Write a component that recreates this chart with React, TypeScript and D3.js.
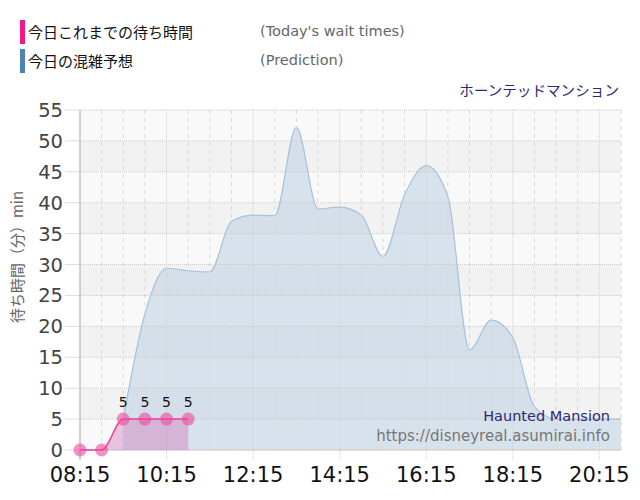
import React from "react";
import * as d3 from "d3";

const predTimes = ["09:15","09:45","10:15","10:45","11:15","11:45","12:15","12:45","13:15","13:45","14:15","14:45","15:15","15:45","16:15","16:45","17:15","17:45","18:15","18:45","19:15","19:45","20:15","20:45"];
const predValues = [5,22,29.4,29,28.8,37,38,37.9,52.2,39,39.3,38,31.3,41.3,46,41,16.2,21,18.2,7,5,5,5,5];
const actualTimes = ["08:15","08:45","09:15","09:45","10:15","10:45"];
const actualValues = [0,0,5,5,5,5];
const xTickLabels = ["08:15","10:15","12:15","14:15","16:15","18:15","20:15"];
const yTicks = [0,5,10,15,20,25,30,35,40,45,50,55];

const toMin = (s: string) => { const [h, m] = s.split(":").map(Number); return h * 60 + m; };

const W = 640, H = 500;
const L = 80, R = 621, T = 110, B = 450;
const SANS = "'DejaVu Sans', Verdana, sans-serif";
const JP = "'Noto Sans CJK JP', sans-serif";

export default function App() {
  const x = d3.scaleLinear().domain([toMin("08:15"), toMin("20:45")]).range([L, R]);
  const y = d3.scaleLinear().domain([0, 55]).range([B, T]);

  const pred = predTimes.map((t, i) => ({ t: toMin(t), v: predValues[i] }));
  const act = actualTimes.map((t, i) => ({ t: toMin(t), v: actualValues[i] }));

  const predArea = d3.area<{ t: number; v: number }>().x(d => x(d.t)).y0(y(0)).y1(d => y(d.v)).curve(d3.curveMonotoneX);
  const predLine = d3.line<{ t: number; v: number }>().x(d => x(d.t)).y(d => y(d.v)).curve(d3.curveMonotoneX);
  const actArea = d3.area<{ t: number; v: number }>().x(d => x(d.t)).y0(y(0)).y1(d => y(d.v)).curve(d3.curveMonotoneX);
  const actLine = d3.line<{ t: number; v: number }>().x(d => x(d.t)).y(d => y(d.v)).curve(d3.curveMonotoneX);

  const halfHours = d3.range(toMin("08:15"), toMin("20:45") + 1, 30);
  const majors = xTickLabels.map(toMin);

  return (
    <svg width={W} height={H} style={{ position: "absolute", left: 0, top: 0, background: "#fff" }}>
      {/* legend */}
      <rect x={20} y={20} width={5} height={24} fill="#ee1a8c" />
      <text x={28} y={38} fontFamily={JP} fontSize={15} fill="#111">今日これまでの待ち時間</text>
      <text x={260} y={36} fontFamily={SANS} fontSize={14.5} fill="#666">(Today's wait times)</text>
      <rect x={20} y={49} width={5} height={24} fill="#4a82b4" />
      <text x={28} y={67} fontFamily={JP} fontSize={15} fill="#111">今日の混雑予想</text>
      <text x={260} y={65} fontFamily={SANS} fontSize={14.5} fill="#666">(Prediction)</text>
      <text x={619} y={96} textAnchor="end" fontFamily={JP} fontSize={14.6} fill="#2a2a78">ホーンテッドマンション</text>

      {/* bands */}
      {yTicks.slice(0, -1).map((v, i) => (
        <rect key={"b" + v} x={L} y={y(v + 5)} width={R - L} height={y(v) - y(v + 5)}
          fill={(10 - i) % 2 === 0 ? "#f9f9f9" : "#f2f2f2"} />
      ))}

      {/* prediction */}
      <path d={predArea(pred) || ""} fill="#c4d4e3" fillOpacity={0.62} />
      <path d={predLine(pred) || ""} fill="none" stroke="#a8c2da" strokeWidth={1.2} />

      {/* grid */}
      {halfHours.map(t => majors.includes(t) ? null : (
        <line key={"v" + t} x1={x(t)} x2={x(t)} y1={T} y2={B} stroke="#d8d8d8" strokeDasharray="4,4" />
      ))}
      {majors.map(t => (
        <line key={"m" + t} x1={x(t)} x2={x(t)} y1={T} y2={B + 10} stroke="#cfcfcf" strokeDasharray="1,1" />
      ))}
      {yTicks.map(v => (
        <g key={"h" + v}>
          <line x1={L} x2={R} y1={y(v)} y2={y(v)} stroke="#c8c8c8" strokeDasharray="1,1" />
          <line x1={65} x2={L} y1={y(v)} y2={y(v)} stroke="#dddddd" />
          <text x={63} y={y(v) + 7} textAnchor="end" fontFamily={SANS} fontSize={19.5} fill="#444">{v}</text>
        </g>
      ))}
      <line x1={L} x2={L} y1={T} y2={B + 10} stroke="#b0b0b0" />
      <line x1={L} x2={R} y1={B} y2={B} stroke="#d0d0d0" />

      {/* x labels */}
      {xTickLabels.map(s => (
        <text key={"xl" + s} x={x(toMin(s))} y={482} textAnchor="middle" fontFamily={SANS} fontSize={21} fill="#111">{s}</text>
      ))}

      {/* y title */}
      <text transform={`translate(23,257) rotate(-90)`} textAnchor="middle" fontFamily={JP} fontSize={15} fill="#666">待ち時間（分）min</text>

      {/* actual */}
      <path d={actArea(act) || ""} fill="#d070b8" fillOpacity={0.4} />
      <path d={actLine(act) || ""} fill="none" stroke="#e8409a" strokeWidth={1.5} />
      {act.map((d, i) => (
        <g key={"p" + i}>
          <circle cx={x(d.t)} cy={y(d.v)} r={6.5} fill="#ec4aa0" fillOpacity={0.6} />
          {d.v > 0 && (
            <text x={x(d.t)} y={y(d.v) - 12} textAnchor="middle" fontFamily={SANS} fontSize={14} fill="#111">{d.v}</text>
          )}
        </g>
      ))}

      {/* watermark */}
      <text x={610} y={421} textAnchor="end" fontFamily={SANS} fontSize={14.5} fill="#2a2a78">Haunted Mansion</text>
      <text x={610} y={441} textAnchor="end" fontFamily={SANS} fontSize={15} fill="#777">https://disneyreal.asumirai.info</text>
    </svg>
  );
}
